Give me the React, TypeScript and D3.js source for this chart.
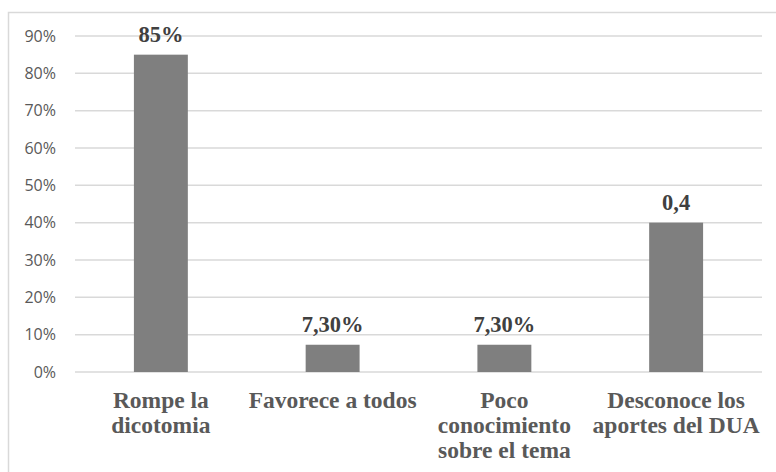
import React, { useEffect, useRef } from "react";
import * as d3 from "d3";

// Category names (line breaks mark where the axis labels wrap)
const categories = [
  "Rompe la\ndicotomia",
  "Favorece a todos",
  "Poco\nconocimiento\nsobre el tema",
  "Desconoce los\naportes del DUA",
];
const values = [0.85, 0.073, 0.073, 0.4];
const valueLabels = ["85%", "7,30%", "7,30%", "0,4"];
const yTicks = [0, 0.1, 0.2, 0.3, 0.4, 0.5, 0.6, 0.7, 0.8, 0.9];

const W = 776;
const H = 472;

export default function App() {
  const ref = useRef<SVGSVGElement | null>(null);

  useEffect(() => {
    const svg = d3.select(ref.current);
    svg.selectAll("*").remove();

    const left = 75;
    const right = 762;
    const top = 36;
    const bottom = 372;

    const x = d3
      .scaleBand<string>()
      .domain(categories)
      .range([left, right])
      .paddingInner(0.686)
      .paddingOuter(0.343);
    const y = d3.scaleLinear().domain([0, 0.9]).range([bottom, top]);

    svg
      .append("rect")
      .attr("x", 0)
      .attr("y", 0)
      .attr("width", W)
      .attr("height", H)
      .attr("fill", "#ffffff");

    // outer chart frame
    svg
      .append("rect")
      .attr("x", 8.5)
      .attr("y", 12.5)
      .attr("width", W + 20)
      .attr("height", H + 20)
      .attr("fill", "none")
      .attr("stroke", "#d9d9d9")
      .attr("stroke-width", 1.5);

    // gridlines
    svg
      .append("g")
      .selectAll("line")
      .data(yTicks)
      .join("line")
      .attr("x1", left)
      .attr("x2", right)
      .attr("y1", (d) => y(d))
      .attr("y2", (d) => y(d))
      .attr("stroke", "#d9d9d9")
      .attr("stroke-width", 1.5);

    // y tick labels
    svg
      .append("g")
      .selectAll("text")
      .data(yTicks)
      .join("text")
      .attr("x", 56)
      .attr("y", (d) => y(d))
      .attr("dy", "0.36em")
      .attr("text-anchor", "end")
      .attr("font-family", "'Open Sans', sans-serif")
      .attr("font-size", 16)
      .attr("fill", "#595959")
      .text((d) => `${Math.round(d * 100)}%`);

    // bars
    svg
      .append("g")
      .selectAll("rect")
      .data(values)
      .join("rect")
      .attr("x", (_, i) => x(categories[i])!)
      .attr("y", (d) => y(d))
      .attr("width", x.bandwidth())
      .attr("height", (d) => bottom - y(d))
      .attr("fill", "#7f7f7f");

    // value labels
    svg
      .append("g")
      .selectAll("text")
      .data(values)
      .join("text")
      .attr("x", (_, i) => x(categories[i])! + x.bandwidth() / 2)
      .attr("y", (d) => y(d) - 13)
      .attr("text-anchor", "middle")
      .attr("font-family", "'Liberation Serif', 'Times New Roman', serif")
      .attr("font-weight", "bold")
      .attr("font-size", 22.5)
      .attr("fill", "#404040")
      .text((_, i) => valueLabels[i]);

    // category labels
    const cat = svg
      .append("g")
      .selectAll("text")
      .data(categories)
      .join("text")
      .attr("text-anchor", "middle")
      .attr("font-family", "'Liberation Serif', 'Times New Roman', serif")
      .attr("font-weight", "bold")
      .attr("font-size", 23.5)
      .attr("fill", "#595959");
    cat.each(function (d) {
      const cx = x(d)! + x.bandwidth() / 2;
      d3.select(this)
        .selectAll("tspan")
        .data(d.split("\n"))
        .join("tspan")
        .attr("x", cx)
        .attr("y", (_, j) => 408 + j * 25)
        .text((s) => s);
    });
  }, []);

  return (
    <svg
      ref={ref}
      width={W}
      height={H}
      style={{ position: "absolute", left: 0, top: 0, display: "block" }}
    />
  );
}
